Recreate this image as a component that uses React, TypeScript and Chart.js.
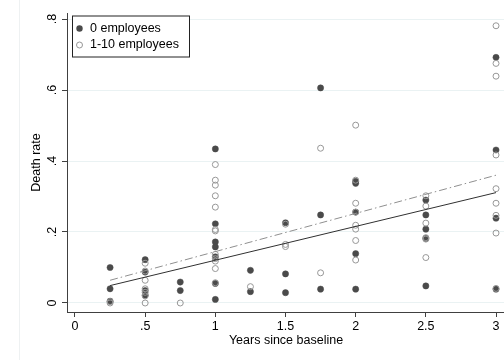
import { useEffect, useRef } from "react";
import { Chart, registerables } from "chart.js";

Chart.register(...registerables);

// ---- data ----
const years = [0.25, 0.5, 0.75, 1, 1.25, 1.5, 1.75, 2, 2.5, 3];

// death rates per year, firms with 0 employees (filled markers)
const rates0Emp: number[][] = [
  [0.1, 0.04, 0.005],
  [0.122, 0.087, 0.035, 0.022],
  [0.059, 0.035],
  [0.434, 0.223, 0.172, 0.158, 0.13, 0.055, 0.01],
  [0.092, 0.032],
  [0.226, 0.082, 0.029],
  [0.606, 0.248, 0.039],
  [0.343, 0.337, 0.256, 0.139, 0.039],
  [0.29, 0.248, 0.208, 0.182, 0.048],
  [0.692, 0.431, 0.239, 0.039],
];

// death rates per year, firms with 1-10 employees (hollow markers)
const rates1to10Emp: number[][] = [
  [0.0, 0.004],
  [0.112, 0.09, 0.064, 0.04, 0.03, 0.02, 0.0],
  [0.0],
  [0.39, 0.346, 0.332, 0.302, 0.27, 0.207, 0.203, 0.137, 0.125, 0.118, 0.097, 0.057],
  [0.046],
  [0.222, 0.165, 0.159],
  [0.436, 0.085],
  [0.501, 0.346, 0.281, 0.256, 0.219, 0.208, 0.176, 0.121],
  [0.302, 0.273, 0.225, 0.184, 0.18, 0.128],
  [0.781, 0.675, 0.639, 0.417, 0.322, 0.281, 0.247, 0.197, 0.041],
];

// linear fit lines (endpoints)
const fitYears = [0.25, 3];
const fit0Emp = [0.049, 0.311];
const fit1to10Emp = [0.064, 0.36];

const seriesLabels = ["0 employees", "1-10 employees"];
const xTickValues = [0, 0.5, 1, 1.5, 2, 2.5, 3];
const xTickLabels = ["0", ".5", "1", "1.5", "2", "2.5", "3"];
const yTickValues = [0, 0.2, 0.4, 0.6, 0.8];
const yTickLabels = ["0", ".2", ".4", ".6", ".8"];
const xTitle = "Years since baseline";
const yTitle = "Death rate";

// ---- styling ----
const FONT_FAMILY = "'Liberation Sans', Arial, Helvetica, sans-serif";
const FONT_SIZE = 12.5;
const AXIS_COLOR = "#404040";
const GRID_COLOR = "#eaf2f3";
const FILLED_COLOR = "#4a4a4a";
const HOLLOW_COLOR = "#979797";
const FIT0_COLOR = "#303030";
const FIT1_COLOR = "#8f8f8f";
const FIT1_DASH = [8, 3, 1.5, 3];
const CANVAS_W = 510;
const VIEW_W = 504;
const VIEW_H = 360;

function toPoints(xs: number[], groups: number[][]) {
  const pts: { x: number; y: number }[] = [];
  groups.forEach((g, i) => g.forEach((v) => pts.push({ x: xs[i], y: v })));
  return pts;
}

function toLine(xs: number[], ys: number[]) {
  return xs.map((x, i) => ({ x, y: ys[i] }));
}

const overlayPlugin = {
  id: "stataOverlay",
  beforeDraw(chart: any) {
    const ctx = chart.ctx;
    ctx.save();
    ctx.strokeStyle = "#eef1f2";
    ctx.lineWidth = 1;
    ctx.beginPath();
    ctx.moveTo(19.5, 0);
    ctx.lineTo(19.5, chart.height);
    ctx.stroke();
    ctx.restore();
  },
  afterDraw(chart: any) {
    const ctx = chart.ctx;
    const yScale = chart.scales.y;
    const area = chart.chartArea;
    const font = `${FONT_SIZE}px ${FONT_FAMILY}`;
    ctx.save();
    ctx.font = font;
    ctx.fillStyle = "#000";
    ctx.textAlign = "center";
    ctx.textBaseline = "middle";
    // rotated y tick labels
    yTickValues.forEach((v, i) => {
      const py = yScale.getPixelForValue(v);
      ctx.save();
      ctx.translate(area.left - 14, py);
      ctx.rotate(-Math.PI / 2);
      ctx.fillText(yTickLabels[i], 0, 0);
      ctx.restore();
    });
    // y title
    ctx.save();
    ctx.translate(area.left - 30, (area.top + area.bottom) / 2);
    ctx.rotate(-Math.PI / 2);
    ctx.fillText(yTitle, 0, 0);
    ctx.restore();

    // legend box inside plot region (top-left)
    const bx = area.left + 5;
    const by = area.top + 2.5;
    const bw = 117;
    const bh = 41;
    ctx.fillStyle = "#fff";
    ctx.fillRect(bx, by, bw, bh);
    ctx.strokeStyle = "#222";
    ctx.lineWidth = 1;
    ctx.strokeRect(bx + 0.5, by + 0.5, bw, bh);
    const rows = [by + 13, by + 29.5];
    const mx = bx + 7.5;
    ctx.beginPath();
    ctx.arc(mx, rows[0], 3.2, 0, Math.PI * 2);
    ctx.fillStyle = FILLED_COLOR;
    ctx.fill();
    ctx.beginPath();
    ctx.arc(mx, rows[1], 3, 0, Math.PI * 2);
    ctx.strokeStyle = HOLLOW_COLOR;
    ctx.lineWidth = 1;
    ctx.stroke();
    ctx.fillStyle = "#000";
    ctx.textAlign = "left";
    ctx.textBaseline = "middle";
    ctx.fillText(seriesLabels[0], bx + 18, rows[0]);
    ctx.fillText(seriesLabels[1], bx + 18, rows[1]);
    ctx.restore();
  },
};

export default function App() {
  const canvasRef = useRef<HTMLCanvasElement | null>(null);

  useEffect(() => {
    const canvas = canvasRef.current;
    if (!canvas) return;
    const font = { family: FONT_FAMILY, size: FONT_SIZE };
    const chart = new Chart(canvas, {
      type: "scatter",
      data: {
        datasets: [
          {
            type: "line",
            label: "fit 0",
            data: toLine(fitYears, fit0Emp),
            borderColor: FIT0_COLOR,
            borderWidth: 1,
            pointRadius: 0,
            showLine: true,
            fill: false,
          } as any,
          {
            type: "line",
            label: "fit 1-10",
            data: toLine(fitYears, fit1to10Emp),
            borderColor: FIT1_COLOR,
            borderWidth: 1,
            borderDash: FIT1_DASH,
            pointRadius: 0,
            showLine: true,
            fill: false,
          } as any,
          {
            label: seriesLabels[1],
            data: toPoints(years, rates1to10Emp),
            backgroundColor: "rgba(0,0,0,0)",
            borderColor: HOLLOW_COLOR,
            borderWidth: 1,
            pointRadius: 3,
          },
          {
            label: seriesLabels[0],
            data: toPoints(years, rates0Emp),
            backgroundColor: FILLED_COLOR,
            borderColor: FILLED_COLOR,
            borderWidth: 0.5,
            pointRadius: 3.1,
          },
        ],
      },
      options: {
        responsive: false,
        animation: false,
        events: [],
        layout: { padding: { top: 13, left: 0, right: 0, bottom: 0 } },
        plugins: {
          legend: { display: false },
          tooltip: { enabled: false },
        },
        scales: {
          x: {
            type: "linear",
            min: -0.057,
            max: 3.064,
            afterBuildTicks: (s: any) => {
              s.ticks = xTickValues.map((v) => ({ value: v }));
            },
            afterFit: (s: any) => {
              s.height = 48;
            },
            ticks: {
              callback: (v: any) => {
                const i = xTickValues.indexOf(Number(v));
                return i >= 0 ? xTickLabels[i] : "";
              },
              font,
              color: "#000",
              padding: 2,
              autoSkip: false,
              maxRotation: 0,
              minRotation: 0,
            },
            grid: {
              drawOnChartArea: false,
              drawTicks: true,
              tickLength: 5,
              tickColor: AXIS_COLOR,
            },
            border: { color: AXIS_COLOR, width: 1 },
            title: {
              display: true,
              text: xTitle,
              font,
              color: "#000",
              padding: { top: 0, bottom: 12 },
            },
          },
          y: {
            type: "linear",
            min: -0.0254,
            max: 0.817,
            afterBuildTicks: (s: any) => {
              s.ticks = yTickValues.map((v) => ({ value: v }));
            },
            afterFit: (s: any) => {
              s.width = 67;
            },
            ticks: { display: false },
            grid: {
              color: GRID_COLOR,
              lineWidth: 1,
              drawTicks: true,
              tickLength: 5,
              tickColor: AXIS_COLOR,
            },
            border: { color: AXIS_COLOR, width: 1 },
          },
        },
      } as any,
      plugins: [overlayPlugin],
    });
    return () => chart.destroy();
  }, []);

  return (
    <div
      style={{
        position: "absolute",
        left: 0,
        top: 0,
        width: VIEW_W,
        height: VIEW_H,
        overflow: "hidden",
        background: "#fff",
      }}
    >
      <canvas ref={canvasRef} width={CANVAS_W} height={VIEW_H} style={{ display: "block" }} />
    </div>
  );
}
